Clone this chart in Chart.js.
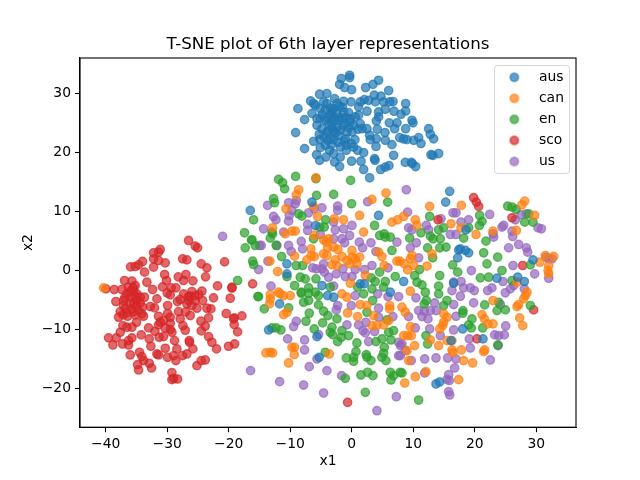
<!DOCTYPE html>
<html><head><meta charset="utf-8">
<style>html,body{margin:0;padding:0;background:#fff}canvas{display:block}</style>
<script src="https://cdn.jsdelivr.net/npm/chart.js@4/dist/chart.umd.min.js"></script>
</head><body><canvas id="c" width="640" height="480"></canvas>
<script>
const seriesNames=["aus","can","en","sco","us"];
const seriesColors=["31,119,180","255,127,14","44,160,44","214,39,40","148,103,189"];
const xTicks=[-40,-30,-20,-10,0,10,20,30];
const yTicks=[-20,-10,0,10,20,30];
const aus=[[-3.5,27.5],[-2,27.8],[-3.2,26.9],[-4.8,26.4],[-1.5,27.6],[-3,25.9],[-3.8,25.8],[-1,25.9],[-2,25.9],[-3.2,24],[-2.6,23.3],[-1.4,24.5],[-0.5,24.2],[-4.5,22.6],[-3.8,23.6],[-1.2,21.9],[-2.2,21.7],[-3.3,21.3],[-5.2,22.2],[1,23.9],[-1.7,32.5],[-0.35,33.05],[-0.35,32.66],[-1.98,31.5],[-1.16,30.97],[-0.03,30.6],[2.25,30.97],[3.44,31.5],[4.36,32.2],[6,30.46],[-5.23,29.84],[-4.04,29.95],[-6.69,28.7],[-5.93,27.97],[-8.75,27.4],[-7.67,25.54],[-9.13,23.34],[-7.67,20.63],[-6.2,21.87],[-2.79,29.1],[-4.58,28.54],[-1.33,28.65],[-0.13,28.54],[2.03,28.93],[1.38,28.54],[2.74,28.8],[3.66,29.67],[4.74,29.5],[3.82,28.54],[5.18,28.54],[6.15,28.54],[6.7,28.6],[8.76,28.26],[8.76,27],[2.47,26.96],[1.11,27.7],[5.45,27.3],[4.36,26.84],[4.36,26],[3.99,25.3],[6.86,26.96],[8,26.45],[7.35,25],[6.97,24],[6.1,25],[8.76,24],[9.79,25.43],[9.95,25],[12.5,24],[12.77,23.06],[13.3,22.3],[11.25,21.5],[10.87,22.5],[10.06,22.04],[8.97,22.15],[8.43,22.27],[7.78,22.5],[6.53,21.3],[5.45,22.04],[5.4,23.34],[4.15,23.9],[3,22.15],[3.99,22.3],[3.93,21],[1.93,19.95],[0.52,22.15],[-0.08,21.5],[0.95,20.35],[6.8,19.5],[3.7,18.93],[3.77,18.65],[1.5,18.5],[-0.03,18.5],[1.93,17.1],[4.69,17.1],[5.45,17.5],[6.05,17.75],[8.7,18.3],[9.68,18.3],[9.84,18.1],[10.38,17.6],[12.87,19.6],[13.2,19.5],[14.12,19.8],[2.9,15.7],[-2.79,18.37],[-1.98,17.6],[-1.87,19.2],[-4.2,19.2],[-5.23,18.65],[-5.72,19.6],[-5.12,20.8],[-3.6,20.35],[-2.95,19.8],[-0.89,20.35],[-1.87,20.9],[-4.31,21.2],[-3.93,22.04],[-2.95,22.15],[-1,22.27],[-0.89,21.2],[-5.28,23.06],[-4.85,24],[-3.76,24.87],[-4.31,25.43],[-5.66,25.7],[-6.47,26.6],[-4.31,27.13],[-2.95,27.4],[-2.41,26.56],[-1.33,26.84],[-0.51,26.73],[0.57,26],[1.11,26.3],[-0.24,25.15],[-1.05,24.87],[-2.14,25.43],[-2.41,24.3],[-1.87,23.74],[-2.95,23.45],[0.3,24.58],[1.66,24],[2.47,24],[1.38,24.87],[2.9,22.9],[0.03,23.45],[-0.78,23.45],[-4.04,23.45],[-5.12,25.7],[-5.66,24.58],[-3.5,26.3],[-2.41,28.26],[-6.2,28.26],[-5.12,27.4],[-4.04,28.26],[-3.22,24.58],[-1.6,25.7],[-2.95,25.43],[-2.14,22.9],[-3.5,22.3],[0.3,20.9],[-0.24,25.7],[-16.5,10.17],[-6.48,11.58],[4.36,9.32],[-10.54,1.13],[-10.54,-0.56],[-4.85,-2.54],[1.38,-2.26],[2.03,-2.26],[6.26,-3.67],[-5.9,7.6],[15.91,13.4],[15.26,11.58],[17.37,3.5],[17.65,3.67],[19,2.99],[18.46,3.39],[17.21,2.15],[18.57,6.9],[29.46,1.8],[23.6,-1.3],[26.97,-1.13],[28.05,-1.86],[8.43,-1.86],[16.56,-2.15],[-11.73,-5.65],[-13.52,-10.06],[-5.66,-11.19],[-5.3,-14.7],[-3.93,-4.24],[-2.95,-4.52],[18.03,-9.89],[21.33,-11.58],[13.69,-19.2],[14.29,-18.87],[16.13,-11.86]];
const can=[[-40.35,-2.93],[-5.83,15.7],[-8.64,13.67],[-9.02,12.83],[5.56,13.11],[3.28,12.03],[-10.7,10.45],[-6.21,10.85],[-5.56,9.15],[1.27,9.32],[-2.85,8.76],[-1.33,8.59],[6.53,8.19],[7.45,8.59],[-12.87,7.23],[1.92,6.5],[-10.81,6.2],[-9.73,6.67],[-9.19,6.67],[-6.1,5.93],[-4.58,5.2],[-4.15,4.8],[-3.77,5.37],[-2.95,3.96],[-2.25,3.56],[-6.64,3.67],[-3.93,3.84],[-4.58,2.83],[-4.04,2.54],[-6.58,2.54],[-6.1,2.37],[-7.29,1.81],[-9.3,2.43],[-1.6,2.37],[0.03,3.39],[0.03,2.26],[-0.78,1.7],[0.57,1.98],[1.27,2.26],[0.84,1.13],[-0.35,1.13],[-2.68,1.81],[-3.23,0.96],[-2.41,0.85],[4.36,3.11],[4.9,2.37],[7.34,1.58],[7.8,1.58],[5.28,0.85],[-13.31,1.58],[-12.06,-0.17],[2.2,-0.85],[-0.24,-2.15],[-11.9,-3.67],[-13.25,-4.07],[12.66,10.85],[17.81,11.02],[10.33,8.59],[8.43,9.15],[10.6,7.63],[16.13,7.91],[17.75,7.23],[20.19,6.1],[22.96,6.67],[26.75,6.78],[28.11,11.75],[27.67,11.13],[29.73,9.32],[13.04,2.83],[9.79,2.54],[9.52,1.98],[8.54,1.13],[10.06,0.85],[9.08,0.11],[12.23,0.74],[30.55,1.41],[31.47,2.54],[32.82,2.38],[32.01,0.85],[31.9,0],[32.01,-0.56],[9.52,-3.5],[26.86,-1.98],[28.49,-3.67],[-13.25,-4.8],[-13.36,-5.65],[-11.63,-3.95],[-11.08,-4.24],[-10,-4.24],[-11.08,-7.46],[-10.54,-7.06],[-9.73,-13],[-9.3,-13],[-9.35,-14.24],[-10.27,-15.65],[-13.96,-13.95],[-13.25,-13.84],[-12.87,-13.95],[-3.66,-14.12],[-0.68,-7.18],[-1.6,-3.95],[-0.78,-4.52],[1.38,-5.76],[2.47,-5.93],[6.15,-5.93],[6.15,-6.5],[0.95,-7.8],[3.55,-7.63],[3.28,-9.32],[4.09,-9.32],[5.17,-9.21],[5.99,-8.47],[8.16,-6.21],[8.7,-7.06],[22.96,-5.08],[26.86,-6.1],[27.13,-5.76],[27.94,-4.8],[28.22,-4.24],[27.29,-8.02],[27.78,-9.32],[14.94,-7.34],[15.48,-7.91],[14.94,-8.76],[14.77,-9.32],[14.29,-9.89],[9.52,-9.49],[8.43,-11.02],[9.08,-11.02],[9.68,-11.02],[10.22,-12.71],[8.97,-13.56],[12.77,-11.75],[14.12,-12.71],[15.48,-11.86],[16.29,-11.86],[16.29,-13.45],[16.45,-13.84],[17.81,-13.45],[18.19,-15.25],[19.65,-15.65],[21.6,-13.45],[21.44,-13.73],[21.17,-7.46],[21.55,-8.19],[22.14,-9.04],[22.96,-9.04],[9.24,-15.25],[12.06,-17.12],[10.33,-17.97],[8.6,-19.04],[17.37,-18.47]];
const en=[[-18.56,-1.69],[-15.26,-4.4],[-11.9,15.42],[-11.25,14.86],[-10.92,13.84],[-9.13,15.93],[-5.83,15.54],[-0.19,15.25],[-5.72,12.71],[-2.95,12.88],[-12.71,12.15],[-12.55,11.47],[-0.03,11.3],[5.83,11.58],[-15.96,8.59],[-8.64,9.6],[-8.1,9.2],[-17.43,6.39],[-12.98,6.5],[-12.87,6.2],[-13.25,5.48],[-16.23,5.2],[-16.29,5.14],[-17.32,3.84],[-15.69,4.24],[-12.28,4.24],[-4.25,8.59],[-5.23,7.35],[-4.47,7.35],[-6.21,5.37],[3.71,7.63],[4.53,5.93],[5.28,6.2],[5.45,5.65],[6.26,5.65],[6.53,3.39],[-16.12,1.58],[-15.96,1.02],[-11.41,2.37],[-9.02,0.85],[-8,0.85],[-10.54,-1.02],[-8.37,-1.13],[-7.56,-1.41],[-5.83,-1.41],[-9.3,-2.54],[-7.02,-2.94],[-8.21,-3.67],[-5.93,-3.67],[-3.5,-2.82],[0.95,-2.82],[3.17,-1.24],[3.82,-1.86],[4.53,-0.28],[5.45,-1.86],[7.07,-1.02],[5.17,-2.82],[3.28,-3.1],[25.34,10.9],[26.05,10.74],[26.7,10.34],[12.66,9.15],[20.79,9.32],[21.17,8.31],[20.74,7.63],[19,7.23],[14.94,7.23],[14.12,6.89],[11.25,6.39],[12.77,5.82],[13.2,5.37],[14.39,5.37],[18.19,5.48],[21.82,4.97],[9.41,5.48],[12.33,3.84],[14.29,3.84],[15.32,3.96],[13.15,2.15],[21.44,3],[23.72,2.26],[21.98,1.13],[16.4,0.96],[17.21,-0.28],[24.42,0],[20.9,-1.24],[22.25,-1.13],[11.03,0.17],[10.22,-0.85],[14.29,-0.85],[10.6,-1.98],[11.41,-2.43],[14.12,-2.65],[11.95,-3.67],[14.12,-3.95],[26.05,-1.69],[29.03,0.96],[28.11,8.19],[29.46,8.19],[28.76,9.6],[-15.15,-4.41],[-14.23,-6.5],[-10.27,-6.33],[-8.21,-3.84],[-7.02,-3.84],[-5.4,-4.24],[-7.83,-5.37],[-7.02,-5.08],[-5.4,-5.82],[-4.58,-6.89],[-3.88,-7.63],[-2.41,-8.19],[-6.91,-7.23],[-7.45,-8.59],[-4.74,-8.87],[-12.98,-9.72],[-12.28,-9.72],[-11.52,-10.06],[-6.1,-9.89],[-3.22,-9.6],[-3.5,-10.45],[-1.6,-10.17],[-3.12,-10.85],[-0.52,-11.02],[-1.71,-11.3],[-2.3,-12.03],[0.84,-12.26],[0.68,-13.73],[-0.89,-14.8],[0.3,-14.69],[0.3,-15.37],[2.36,-14.24],[2.47,-14.69],[3.12,-15.25],[-4.31,-13.84],[-1.06,-18.25],[1.49,-17.68],[2.57,-17.23],[3.44,-17.8],[2.2,-20.62],[6.26,-17.23],[6.8,-17.8],[6.37,-18.53],[7.88,-17.23],[5.17,-14.01],[5.55,-15.25],[4.9,-14.69],[5.28,-12.99],[3.93,-12.03],[4.9,-11.58],[6.37,-11.75],[5.99,-10.45],[6.8,-10.17],[5.72,-8.36],[2.47,-7.06],[3.39,-5.08],[1.92,-3.95],[10.87,-21.92],[12.12,-5.08],[11.79,-5.65],[15.48,-5.08],[14.94,-5.93],[18.08,-6.78],[18.03,-7.23],[19.54,-8.19],[19,-9.21],[19.44,-9.72],[21.28,-9.72],[21.6,-5.82],[23.88,-5.37],[23.61,-6.78],[24.96,-6.67],[29.03,-5.93],[12.06,-11.02],[12.33,-12.43],[23.77,-12.6],[8.16,-17.34]];
const sco=[[-36,-3.5],[-35.3,-4.2],[-35.5,-2.9],[-36.9,-4.6],[-35,-5],[-36,-5.5],[-36.8,-6.5],[-35,-6],[-34,-6.2],[-35.5,-7],[-37.2,-7.5],[-30,-3.8],[-26.5,-4.4],[-27,-7],[-25.5,-4.3],[-29.5,-10],[-32,-10.3],[-26.53,5.09],[-25.45,4.13],[-25.07,3.84],[-31.14,3.56],[-31.41,3.11],[-32.22,3],[-32.22,1.98],[-31.41,1.7],[-30.32,1.3],[-27.5,1.98],[-26.8,1.81],[-24.47,1.13],[-23.55,0.45],[-23.77,-1.07],[-20.68,1.47],[-34.01,1.53],[-34.66,0.96],[-35.2,0.68],[-35.96,0.62],[-33.69,-0.28],[-32.22,0.57],[-30.43,-0.68],[-30.11,-1.69],[-28.21,-1.07],[-26.96,-0.68],[-27.34,-1.69],[-25.83,-1.75],[-33.31,-1.98],[-36.94,-1.69],[-35.74,-1.8],[-38.62,-3.22],[-39.97,-3.1],[-37.37,-3.22],[-36.29,-2.82],[-35.2,-2.54],[-35.47,-3.39],[-36.56,-3.95],[-34.93,-3.95],[-32.38,-3.22],[-33.69,-4.52],[-30.76,-2.77],[-29.35,-2.93],[-28.59,-2.93],[-29.51,-4.12],[-31.68,-4.8],[-25.99,-3.56],[-24.36,-3.5],[-21.82,-2.6],[-19.48,-2.82],[-19.48,-2.99],[-19.76,-4.69],[-16.12,-2.26],[-22.47,-4.63],[-24.9,-4.07],[-26.37,-4.35],[-27.34,-3.95],[-28.32,-5.25],[-29.94,-5.93],[-32.76,-6.1],[-32.06,-6.33],[-38.35,-5.25],[-37.1,-5.93],[-35.47,-5.65],[-34.39,-5.48],[-35.74,-6.5],[-34.66,-6.78],[-37.64,-6.95],[-37.91,-7.9],[-36.45,-7.74],[-35.2,-7.51],[-33.85,-7.74],[-31.41,-7.74],[-29.94,-7.28],[-28.16,-6.95],[-26.8,-5.65],[-25.17,-6.38],[-24.25,-5.08],[-23.55,-6.38],[-22.9,-6.5],[-26.26,-7.62],[-27.89,-8.19],[-23.28,-8.02],[-24.53,-8.58],[-23.82,-9.43],[-24.47,-10.22],[-27.45,-9.32],[-27.07,-10.11],[-29.51,-8.92],[-30.6,-8.47],[-31.41,-9.2],[-33.03,-9.71],[-34.99,-8.76],[-37.21,-9.32],[-36.56,-9.6],[-35.74,-9.6],[-37.64,-10.45],[-30.32,-9.77],[-29.24,-10.45],[-30.6,-11.18],[-31.3,-11.3],[-34.23,-10.9],[-35.74,-11.4],[-36.29,-11.86],[-39.54,-11.4],[-38.29,-11.4],[-38.83,-12.6],[-37.26,-12.43],[-36.29,-12.6],[-32.93,-11.58],[-32.66,-12.82],[-28.81,-11.86],[-26.42,-11.86],[-26.37,-12.14],[-23.28,-11.18],[-22.74,-12.14],[-21.98,-13.27],[-20.03,-12.82],[-19.05,-12.43],[-18.56,-10.39],[-19.11,-9.15],[-19.11,-8.02],[-19.21,-8.19],[-17.86,-7.68],[-20.41,-7.28],[-36.02,-14.29],[-34.5,-13.84],[-34.12,-14.57],[-33.85,-15.25],[-34.82,-15.93],[-34.66,-16.83],[-32.93,-15.7],[-32.55,-16.5],[-31.68,-14.12],[-31.41,-14.29],[-30.32,-13.16],[-29.95,-14.69],[-28.97,-14.4],[-28.43,-13.27],[-28.59,-15.25],[-27.5,-14.4],[-26.8,-14.12],[-25.83,-13.27],[-25.17,-16.1],[-24.47,-15.25],[-23.82,-15.14],[-29.24,-17.28],[-29.24,-18.47],[-28.32,-18.36],[-28.97,-18.24],[-36.02,-4.52],[-34.39,-4.52],[-37.1,-5.08],[-34.93,-4.9],[-34.12,-7.34],[-36.56,-7.17],[-25.99,-5.93],[-27.89,-4.9],[-26.53,-5.08],[-25.45,-5.08],[-29.51,-7.9],[-31.14,-8.75],[19.81,12.32],[20.25,11.58],[20.63,10.85],[14.01,8.59],[26.05,8.93],[27.78,0.85],[-0.68,-22.32],[29.57,-6.67],[20.36,-11.58]];
const us=[[-21,5.77],[-16.45,-16.95],[-15.15,0.17],[-14.99,4.24],[-13.69,11.02],[-10.27,11.47],[-9.19,11.3],[-9.02,11.87],[-9.73,10.17],[-10.16,9.32],[-10.27,8.36],[-12.71,9.15],[-12.33,8.59],[-7.02,9.77],[-6.1,10.45],[-4.85,10.62],[-2.3,10.9],[-2.3,10.17],[2.58,11.64],[-7.18,7.8],[-7.18,6.78],[-14.34,7.06],[-11.08,6.5],[-5.12,6.1],[-2.95,8.19],[-2.68,6.89],[0.03,7.63],[-1.33,7.06],[-0.35,5.93],[-2.95,5.37],[-1.16,4.69],[-1.6,5.37],[1.22,4.8],[1.76,3.84],[3.12,4.69],[3.93,3.22],[7.34,4.8],[-14.72,4.24],[-12.17,4.24],[-10.27,4.24],[-8.21,4.92],[-8,3.67],[-9.84,3.22],[-13.63,1.58],[-4.58,1.13],[-6.37,0.45],[-5.77,0.28],[-4.85,0.28],[-1.44,0.28],[0.57,0.17],[3.28,0.85],[2.09,0.17],[5.88,0.45],[-2.52,-0.56],[-3.77,-1.13],[-4.47,-0.28],[-1.06,-1.02],[0.03,-1.02],[-13.14,-2.65],[-2.95,-2.65],[8.87,13.67],[9.08,9.89],[16.45,9.77],[16.94,9.77],[22.42,9.49],[14.5,8.76],[19,8.59],[17.75,8.19],[12.12,7.63],[12.5,6.89],[9.24,7.23],[9.79,6.89],[16.02,6.1],[16.94,6.1],[24.42,7.35],[24.69,7.63],[22.96,6.22],[23.07,5.65],[26.05,6.67],[26.16,5.76],[27.51,9.44],[28.38,9.6],[26.59,8.59],[30.27,7.23],[30.82,7.06],[27.13,4.41],[25.5,3.84],[28.38,3.84],[28.59,3.11],[10.49,4.69],[9.52,3.84],[10.87,2.15],[26.21,0.85],[19.44,0],[29.73,-0.56],[31.58,2.26],[32.01,2],[32.55,2],[32.01,-1.3],[16.56,-1.98],[17.75,-1.86],[16.29,-3.39],[18.19,-2.94],[19.27,-2.94],[19.92,-3.39],[22.09,-3.39],[22.79,-2.94],[24.58,-1.86],[26.32,-2.54],[25.78,-3.1],[24.96,-3.77],[28.05,-3.1],[-11.73,-18.81],[-7.83,-19.38],[-4.58,-20.73],[4.09,-23.73],[7.24,-21.36],[-1.65,-17.8],[-6.91,-16.27],[-5.66,-14.97],[-7.67,-11.75],[-7.67,-13.45],[-10.43,-11.58],[-9.02,-8.59],[-9.46,-9.49],[-5.39,-10.85],[-4.04,-16.95],[-2.52,-6.67],[-2.3,-5.93],[0.57,-4.24],[-0.08,-5.93],[4.2,-3.95],[5.88,-4.41],[7.62,-4.41],[4.36,-6.38],[4.36,-7.91],[6.69,-7.8],[-0.78,-9.21],[1.11,-9.21],[2.3,-8.76],[3.71,-10.34],[2.2,-10.56],[1.82,-10.17],[2.74,-12.03],[7.62,-12.15],[7.62,-14.41],[7.9,-12.71],[10.44,-4.63],[9.24,-7.8],[10.87,-6.78],[11.41,-7.8],[11.79,-6.89],[12.77,-6.78],[13.47,-5.48],[13.74,-6.78],[16.56,-5.76],[17.65,-4.35],[19.81,-5.48],[24.15,-5.76],[16.94,-7.74],[12.39,-8.19],[10.33,-9.72],[12.66,-9.89],[16.56,-10.06],[14.39,-11.02],[19.11,-11.58],[19.27,-13.11],[23.23,-10.9],[23.88,-11.02],[24.8,-10.9],[25.02,-9.38],[23.77,-12.71],[22.52,-15.14],[8.16,-12.43],[8.7,-13.56],[7.89,-14.41],[9.68,-15.25],[11.85,-14.97],[13.69,-14.8],[15.59,-14.8],[16.94,-14.97],[16.72,-16.5],[11.85,-17.34],[15.75,-17.63],[15.48,-18.47],[15.86,-18.64],[15.75,-20.51],[15.91,-21.07]];
const seriesPoints=[aus,can,en,sco,us];
const fontFamily='"DejaVu Sans"';
const minusText=v=>String(v).replace('-','\u2212');
function marker(rgb){const c=document.createElement('canvas');c.width=12;c.height=12;const g=c.getContext('2d');g.beginPath();g.arc(6,6,4.17,0,Math.PI*2);g.fillStyle=`rgba(${rgb},0.7)`;g.strokeStyle=`rgba(${rgb},0.7)`;g.lineWidth=1.39;g.fill();g.stroke();return c;}
const markers=seriesColors.map(marker);
const frame={id:'frame',
  afterLayout(ch){const l=ch.legend;l.left=489.4;l.top=63.2;},
  beforeDraw(ch){const g=ch.ctx;g.save();g.strokeStyle='rgba(204,204,204,0.8)';g.lineWidth=1;g.fillStyle='rgba(255,255,255,0.8)';g.beginPath();g.roundRect(494.5,65.5,75,108,3);g.fill();g.stroke();g.restore();},
  afterDraw(ch){const a=ch.chartArea,g=ch.ctx;g.save();g.strokeStyle='#000';g.lineWidth=1.1;g.strokeRect(a.left,a.top,a.right-a.left,a.bottom-a.top);g.restore();}};
new Chart(document.getElementById('c'),{type:'scatter',
 data:{datasets:seriesNames.map((n,i)=>({label:n,data:seriesPoints[i].map(p=>({x:p[0],y:p[1]})),
   backgroundColor:`rgba(${seriesColors[i]},0.7)`,borderColor:`rgba(${seriesColors[i]},0.7)`,borderWidth:1.39,pointRadius:4.17,pointHoverRadius:4.17}))},
 options:{responsive:false,animation:false,devicePixelRatio:1,
  layout:{padding:{left:0,right:64,top:0,bottom:0}},
  plugins:{tooltip:{enabled:false},
   title:{display:true,fullSize:false,text:'T-SNE plot of 6th layer representations',color:'#000',font:{family:fontFamily,size:16.67,weight:'normal',lineHeight:1.2},padding:{top:35,bottom:3}},
   legend:{position:'chartArea',align:'start',labels:{color:'#000',font:{family:fontFamily,size:13.89},usePointStyle:true,boxHeight:6,pointStyleWidth:35.5,padding:7.15,
     generateLabels(ch){return Chart.defaults.plugins.legend.labels.generateLabels(ch).map((it,i)=>({...it,pointStyle:markers[i]}));}}}},
  scales:{
   x:{type:'linear',min:-44.18,max:36.45,afterBuildTicks:s=>{s.ticks=xTicks.map(v=>({value:v}));},afterFit:s=>{s.height=52.8;},
      grid:{drawOnChartArea:false,tickLength:5,tickColor:'#000',tickWidth:1.1},border:{color:'#000',width:1.1},
      ticks:{color:'#000',font:{family:fontFamily,size:13.89},autoSkip:false,maxRotation:0,padding:4,callback:v=>minusText(v)},
      title:{display:true,text:'x1',color:'#000',font:{family:fontFamily,size:13.89},padding:{top:0,bottom:10}}},
   y:{type:'linear',min:-26.52,max:35.97,afterBuildTicks:s=>{s.ticks=yTicks.map(v=>({value:v}));},afterFit:s=>{s.width=80;},
      grid:{drawOnChartArea:false,tickLength:5,tickColor:'#000',tickWidth:1.1},border:{color:'#000',width:1.1},
      ticks:{color:'#000',font:{family:fontFamily,size:13.89},autoSkip:false,maxRotation:0,padding:4,callback:v=>minusText(v)},
      title:{display:true,text:'x2',color:'#000',font:{family:fontFamily,size:13.89},padding:{top:20,bottom:0}}}
  }},
 plugins:[frame]});
</script></body></html>
